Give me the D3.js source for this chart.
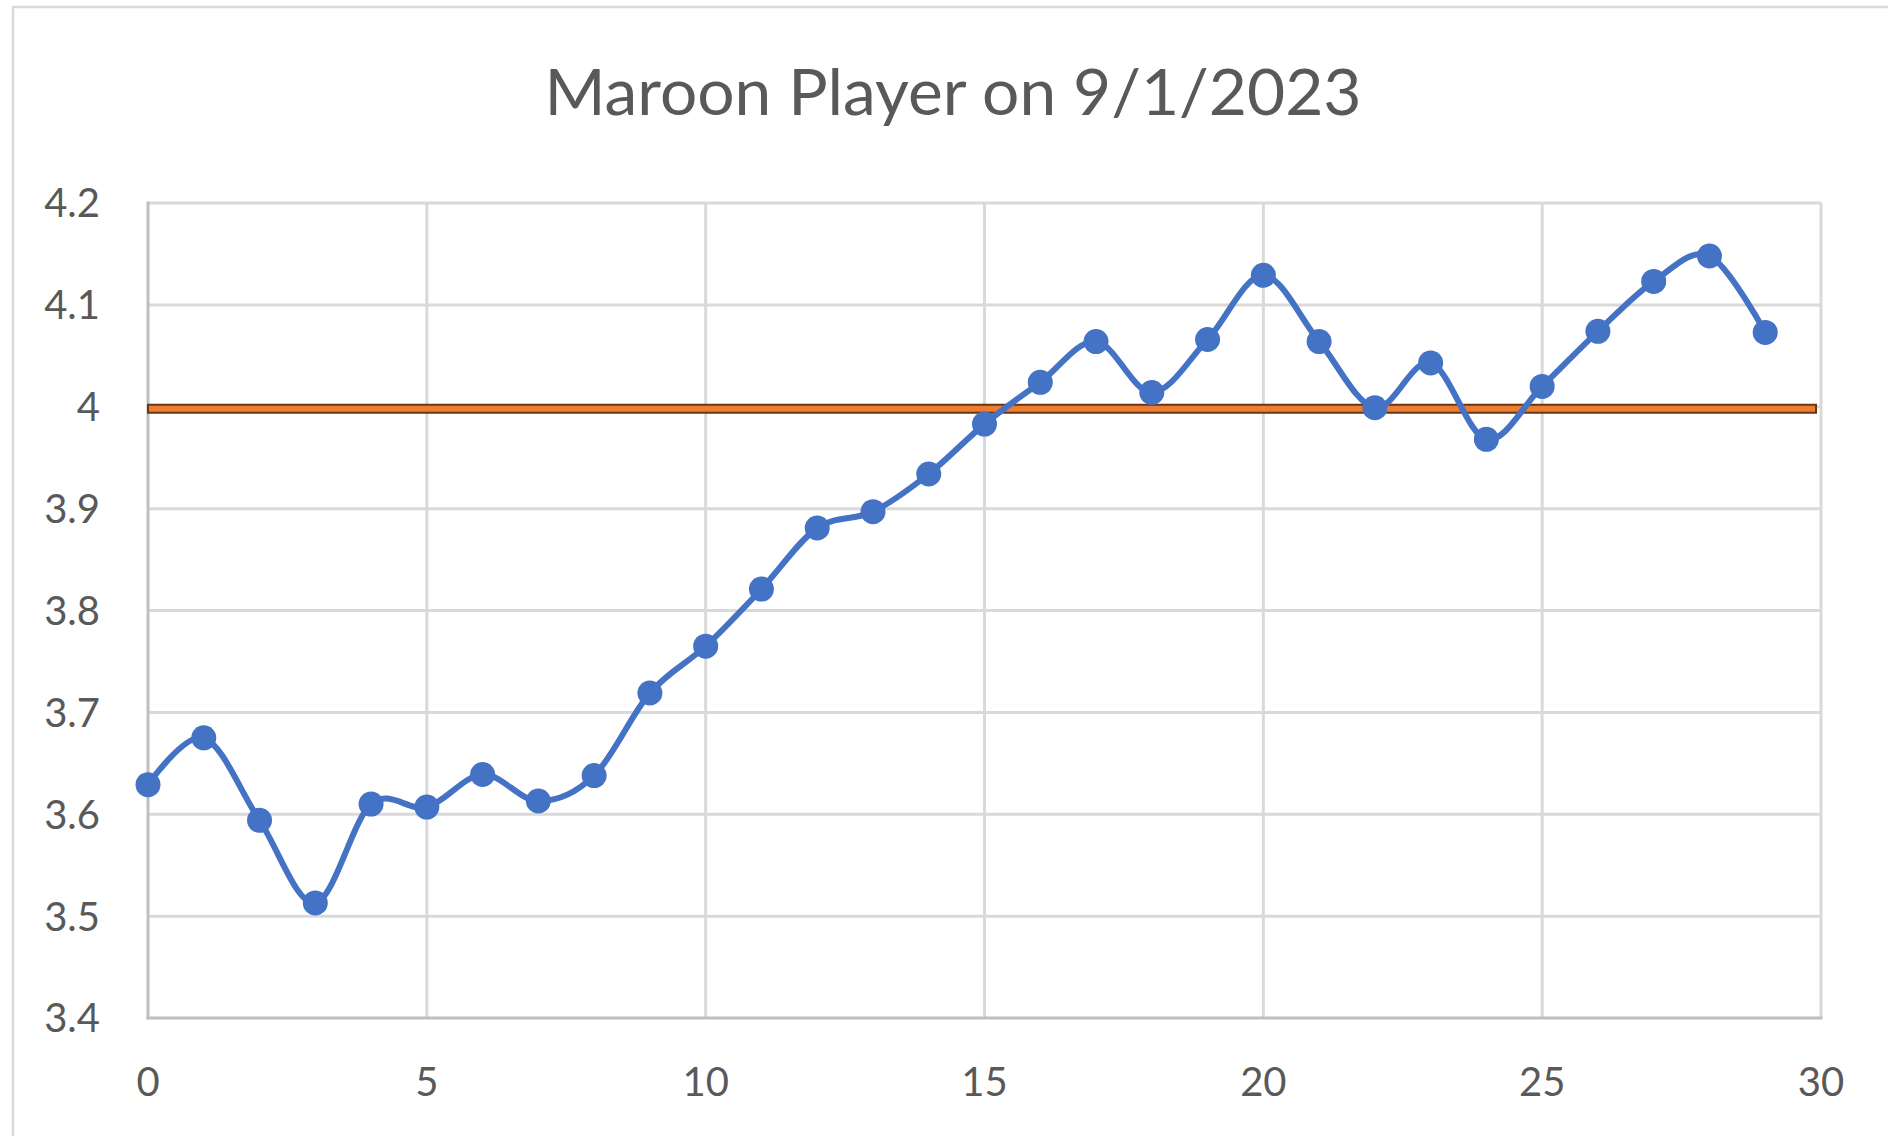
<!DOCTYPE html>
<html>
<head>
<meta charset="utf-8">
<script src="https://cdn.jsdelivr.net/npm/d3@7"></script>
<style>
  body { margin: 0; background: #fff; }
  text { font-family: Lato, "Open Sans", sans-serif; fill: #595959; }
</style>
</head>
<body>
<script>
// values
const days = [0, 1, 2, 3, 4, 5, 6, 7, 8, 9, 10, 11, 12, 13, 14, 15, 16, 17, 18, 19, 20, 21, 22, 23, 24, 25, 26, 27, 28, 29];
const ratings = [3.629, 3.675, 3.594, 3.513, 3.610, 3.607, 3.639, 3.613, 3.638, 3.719, 3.765, 3.821, 3.881, 3.897, 3.934, 3.983,
  4.024, 4.064, 4.014, 4.066, 4.129, 4.064, 3.999, 4.043, 3.968, 4.020, 4.074, 4.123, 4.148, 4.073];
const target = [4];
const xTicks = [0, 5, 10, 15, 20, 25, 30];
const yTicks = [3.4, 3.5, 3.6, 3.7, 3.8, 3.9, 4, 4.1, 4.2];
const title = "Maroon Player on 9/1/2023";

const width = 1888, height = 1136;
const x = d3.scaleLinear().domain([0, 30]).range([148, 1821]);
const y = d3.scaleLinear().domain([3.4, 4.2]).range([1018, 203]);

const svg = d3.select("body").append("svg")
  .attr("width", width)
  .attr("height", height);

// chart area border (only top and left are in frame)
svg.append("rect")
  .attr("x", 13).attr("y", 7)
  .attr("width", 1960).attr("height", 1200)
  .attr("fill", "none")
  .attr("stroke", "#d9d9d9")
  .attr("stroke-width", 2.5);

svg.append("text")
  .attr("x", 953).attr("y", 115)
  .attr("text-anchor", "middle")
  .attr("font-size", 63)
  .attr("textLength", 817)
  .attr("lengthAdjust", "spacingAndGlyphs")
  .text(title);

// gridlines
svg.append("g").selectAll("line")
  .data(yTicks.filter(d => d > 3.4))
  .join("line")
  .attr("x1", x(0)).attr("x2", x(30))
  .attr("y1", d => y(d)).attr("y2", d => y(d))
  .attr("stroke", "#d9d9d9").attr("stroke-width", 3);

svg.append("g").selectAll("line")
  .data(xTicks.filter(d => d > 0))
  .join("line")
  .attr("x1", d => x(d)).attr("x2", d => x(d))
  .attr("y1", y(4.2)).attr("y2", y(3.4))
  .attr("stroke", "#d9d9d9").attr("stroke-width", 3);

// axis lines
svg.append("line")
  .attr("x1", x(0)).attr("x2", x(0))
  .attr("y1", y(4.2) - 1.5).attr("y2", y(3.4) + 1.5)
  .attr("stroke", "#bfbfbf").attr("stroke-width", 3);
svg.append("line")
  .attr("x1", x(0) - 1.5).attr("x2", x(30) + 1.5)
  .attr("y1", y(3.4)).attr("y2", y(3.4))
  .attr("stroke", "#bfbfbf").attr("stroke-width", 3);

// tick labels
const fmt = d => d3.format(".1f")(d).replace(/\.0$/, "");
svg.append("g").selectAll("text")
  .data(yTicks)
  .join("text")
  .attr("x", 100)
  .attr("y", d => y(d))
  .attr("dy", "0.36em")
  .attr("text-anchor", "end")
  .attr("font-size", 40)
  .text(fmt);

svg.append("g").selectAll("text")
  .data(xTicks)
  .join("text")
  .attr("x", d => x(d))
  .attr("y", 1082)
  .attr("dy", "0.36em")
  .attr("text-anchor", "middle")
  .attr("font-size", 40)
  .text(d => d);

// target band at 4.0
svg.append("g").selectAll("rect")
  .data(target)
  .join("rect")
  .attr("x", x(0))
  .attr("y", d => y(d) - 2)
  .attr("width", x(30) - x(0) - 5)
  .attr("height", 8)
  .attr("fill", "#ed7d31")
  .attr("stroke", "#6b3614")
  .attr("stroke-width", 2);

// rating line
const line = d3.line()
  .x((d, i) => x(days[i]))
  .y(d => y(d))
  .curve(d3.curveCardinal.tension(0));

svg.append("path")
  .datum(ratings)
  .attr("d", line)
  .attr("fill", "none")
  .attr("stroke", "#4472c4")
  .attr("stroke-width", 6)
  .attr("stroke-linejoin", "round");

svg.append("g").selectAll("circle")
  .data(ratings)
  .join("circle")
  .attr("cx", (d, i) => x(days[i]))
  .attr("cy", d => y(d))
  .attr("r", 12.5)
  .attr("fill", "#4472c4");
</script>
</body>
</html>
